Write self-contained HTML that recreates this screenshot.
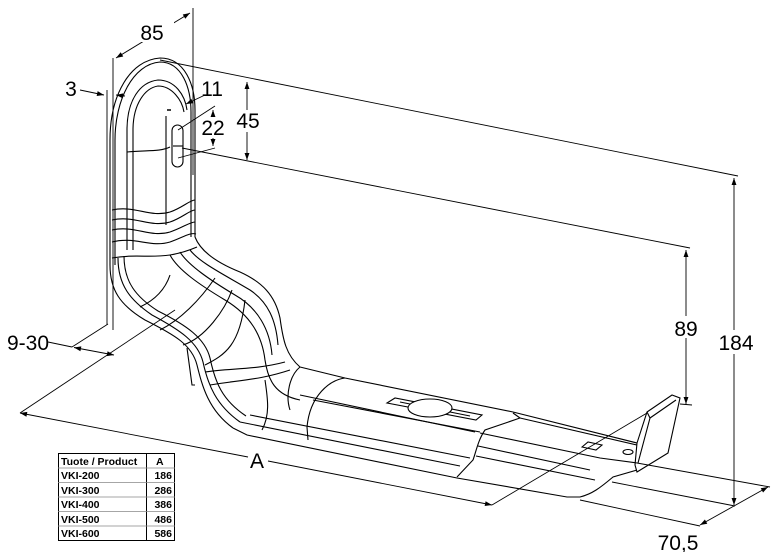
<!DOCTYPE html>
<html><head><meta charset="utf-8"><style>
html,body{margin:0;padding:0;background:#fff;}
svg{display:block;}
text{font-family:"Liberation Sans",sans-serif;fill:#000;}
</style></head><body>
<svg width="776" height="552" viewBox="0 0 776 552" xmlns="http://www.w3.org/2000/svg">
<defs>
<marker id="ar" viewBox="0 0 10 10" refX="10" refY="5" markerWidth="9" markerHeight="7" orient="auto-start-reverse" markerUnits="userSpaceOnUse"><path d="M0,1.5 L10,5 L0,8.5 z" fill="#000"/></marker>
</defs>
<g fill="none" stroke="#000" stroke-width="1.1">
<!-- dimension lines -->
<line x1="113" y1="58" x2="113" y2="330" stroke-width="0.9"/>
<line x1="107" y1="90" x2="107" y2="325" stroke-width="0.9"/>
<line x1="193" y1="8" x2="193" y2="175" stroke-width="0.9"/>
<line x1="116" y1="58" x2="190" y2="13" marker-start="url(#ar)" marker-end="url(#ar)" stroke-width="0.9"/>
<line x1="80" y1="90" x2="104" y2="95" marker-end="url(#ar)" stroke-width="0.9"/>
<line x1="125" y1="96" x2="116" y2="95" marker-end="url(#ar)" stroke-width="0.9"/>
<line x1="160" y1="60" x2="738" y2="176" stroke-width="0.9"/>
<line x1="182" y1="148" x2="690" y2="248" stroke-width="0.9"/>
<line x1="734" y1="178" x2="734" y2="505" marker-start="url(#ar)" marker-end="url(#ar)" stroke-width="0.9"/>
<line x1="686" y1="250" x2="686" y2="404" marker-start="url(#ar)" marker-end="url(#ar)" stroke-width="0.9"/>
<line x1="680" y1="404" x2="692" y2="405" stroke-width="0.9"/>
<line x1="247" y1="82" x2="247" y2="160" marker-start="url(#ar)" marker-end="url(#ar)" stroke-width="0.9"/>
<line x1="213" y1="110" x2="213" y2="117" marker-start="url(#ar)" stroke-width="0.9"/>
<line x1="213" y1="146" x2="213" y2="138" marker-start="url(#ar)" stroke-width="0.9"/>
<line x1="178" y1="130" x2="215" y2="106" stroke-width="0.9"/>
<line x1="178" y1="158" x2="215" y2="148" stroke-width="0.9"/>
<line x1="205" y1="95" x2="186" y2="104" marker-end="url(#ar)" stroke-width="0.9"/>
<line x1="167" y1="110" x2="171" y2="110" stroke-width="1.5"/>
<!-- 9-30 -->
<line x1="108" y1="324" x2="72" y2="347" stroke-width="0.9"/>
<line x1="48" y1="342" x2="72" y2="347" stroke-width="0.9"/>
<line x1="74" y1="347.5" x2="114" y2="355" marker-start="url(#ar)" marker-end="url(#ar)" stroke-width="0.9"/>
<line x1="175" y1="310" x2="20" y2="413" stroke-width="0.9"/>
<!-- A -->
<line x1="20" y1="413" x2="248" y2="457" marker-start="url(#ar)" stroke-width="0.9"/>
<line x1="268" y1="461" x2="492" y2="505" marker-end="url(#ar)" stroke-width="0.9"/>
<line x1="492" y1="505" x2="647" y2="413" stroke-width="0.9"/>
<!-- 70,5 -->
<line x1="637" y1="463" x2="770" y2="487" stroke-width="0.9"/>
<line x1="612" y1="482" x2="735" y2="506" stroke-width="0.9"/>
<line x1="580" y1="500" x2="700" y2="526" stroke-width="0.9"/>
<line x1="700" y1="525" x2="768" y2="487" marker-start="url(#ar)" marker-end="url(#ar)" stroke-width="0.9"/>

<!-- bracket: vertical plate -->
<path d="M110,265 L110,140 C110,95 130,60 160,58 C185,58 195,85 195,110 L195,237"/>
<path d="M115,265 L115,140 C115,100 133,64 160,62 C182,62 191,88 191,112 L191,237"/>
<path d="M127,250 L127,130 C127,100 140,82 158,80 C175,80 185,95 187,110"/>
<path d="M133,250 L133,130 C133,104 145,88 158,86 C172,86 182,100 184,112"/>
<path d="M127,152 C145,150 160,152 170,147"/>
<rect x="172" y="125" width="11" height="42" rx="5.5"/>
<line x1="173" y1="146" x2="183" y2="146"/>
<line x1="166" y1="116" x2="166" y2="225"/>
<!-- wavy bands -->
<path d="M112,210 C135,205 150,218 170,212 C182,208 190,200 195,200"/>
<path d="M112,220 C135,215 150,228 170,222 C182,218 190,210 195,210"/>
<path d="M112,230 C135,225 150,238 170,232 C182,228 190,222 195,222"/>
<path d="M112,242 C135,236 150,248 170,242 C182,238 190,232 196,234"/>
<path d="M112,258 C135,254 150,258 170,255 C182,253 190,250 197,247"/>
<!-- bends -->
<path d="M195,237 C200,250 215,262 240,272 C262,282 275,295 280,318 C283,340 286,355 300,367"/>
<path d="M110,265 C110,290 120,305 145,320 C175,335 192,345 197,365 C202,385 208,410 233,428"/>
<path d="M118,258 C118,285 130,300 152,315 C180,330 198,342 203,362 C208,385 216,405 240,422"/>
<path d="M124,256 C124,282 136,297 158,311 C186,325 205,338 210,358 C215,382 222,400 246,416"/>
<path d="M170,255 C178,270 200,285 225,300 C250,315 262,335 265,360 C268,380 275,395 300,400"/>
<path d="M180,252 C188,265 210,280 235,295 C258,308 270,330 272,355"/>
<path d="M190,250 C200,263 225,275 250,290 C268,302 276,320 278,345"/>
<path d="M140,307 C155,300 165,290 170,275"/>
<path d="M160,330 C180,320 200,300 215,278"/>
<path d="M183,345 C205,338 225,310 232,290"/>
<path d="M205,365 C225,355 240,345 245,300"/>
<path d="M205,372 C230,368 255,370 285,362"/>
<path d="M210,385 C240,380 260,380 290,370"/>
<path d="M187,348 L192,385 L195,385"/>
<path d="M265,380 C268,400 270,415 262,430"/>
<!-- base -->
<path d="M300,367 L345,378 L513,412 L637,443"/>
<path d="M233,428 L247,435 L457,478 L567,497 L580,497 C592,494 600,488 613,477 L637,470"/>
<path d="M240,422 L460,466"/>
<path d="M250,415 L470,458"/>
<path d="M300,395 L475,432"/>
<path d="M313,400 L480,432"/>
<path d="M345,378 C330,380 310,395 307,427 L308,440"/>
<path d="M300,367 C290,375 285,395 290,410"/>
<path d="M513,413 L520,418 L485,430 C478,440 476,452 473,460 L457,477"/>
<path d="M480,433 L600,458 L637,463"/>
<path d="M478,446 L590,470"/>
<path d="M476,456 L595,480"/>
<path d="M520,418 L637,445"/>
<!-- slot & oval -->
<path d="M387,403 L395,398 L482,415 L476,420 z"/>
<path d="M400,402 L470,416"/>
<ellipse cx="430" cy="408" rx="22" ry="9" fill="#fff"/>
<path d="M582,447 L588,442 L602,445 L596,450 z"/>
<ellipse cx="628" cy="452" rx="5" ry="2.5"/>
<!-- flap -->
<path d="M637,443 L647,412 L672,395 L680,398 L668,453 L637,472 L635,465 z"/>
<path d="M647,412 L650,418 L676,400"/>
<path d="M650,418 L638,463"/>
</g>
<!-- labels -->
<g font-size="21">
<rect x="130" y="22" width="44" height="20" fill="#fff"/>
<text x="152" y="40" text-anchor="middle">85</text>
<text x="71" y="96" text-anchor="middle">3</text>
<text x="212" y="96" text-anchor="middle">11</text>
<text x="213" y="135" text-anchor="middle">22</text>
<rect x="234" y="110" width="28" height="22" fill="#fff"/>
<text x="248" y="128" text-anchor="middle">45</text>
<rect x="670" y="316" width="32" height="22" fill="#fff"/>
<text x="686" y="336" text-anchor="middle">89</text>
<rect x="715" y="330" width="40" height="24" fill="#fff"/>
<text x="736" y="350" text-anchor="middle">184</text>
<text x="28" y="350" text-anchor="middle">9-30</text>
<text x="257" y="468" text-anchor="middle">A</text>
<text x="678" y="550" text-anchor="middle">70,5</text>
</g>
<!-- table -->
<g font-size="10.5" font-weight="bold">
<rect x="58.5" y="453.5" width="116" height="87" fill="#fff" stroke="#000" stroke-width="1"/>
<line x1="146.5" y1="453" x2="146.5" y2="541" stroke="#000"/>
<g stroke="#888" stroke-width="0.8">
<line x1="58" y1="468" x2="175" y2="468"/><line x1="58" y1="482.5" x2="175" y2="482.5"/><line x1="58" y1="497" x2="175" y2="497"/><line x1="58" y1="511.5" x2="175" y2="511.5"/><line x1="58" y1="526" x2="175" y2="526"/>
</g>
<text x="61" y="465">Tuote / Product</text><text x="156" y="465">A</text>
<text x="61" y="479">VKI-200</text><text x="172" y="479" text-anchor="end">186</text>
<text x="61" y="494">VKI-300</text><text x="172" y="494" text-anchor="end">286</text>
<text x="61" y="508">VKI-400</text><text x="172" y="508" text-anchor="end">386</text>
<text x="61" y="523">VKI-500</text><text x="172" y="523" text-anchor="end">486</text>
<text x="61" y="537">VKI-600</text><text x="172" y="537" text-anchor="end">586</text>
</g>
</svg>
</body></html>
